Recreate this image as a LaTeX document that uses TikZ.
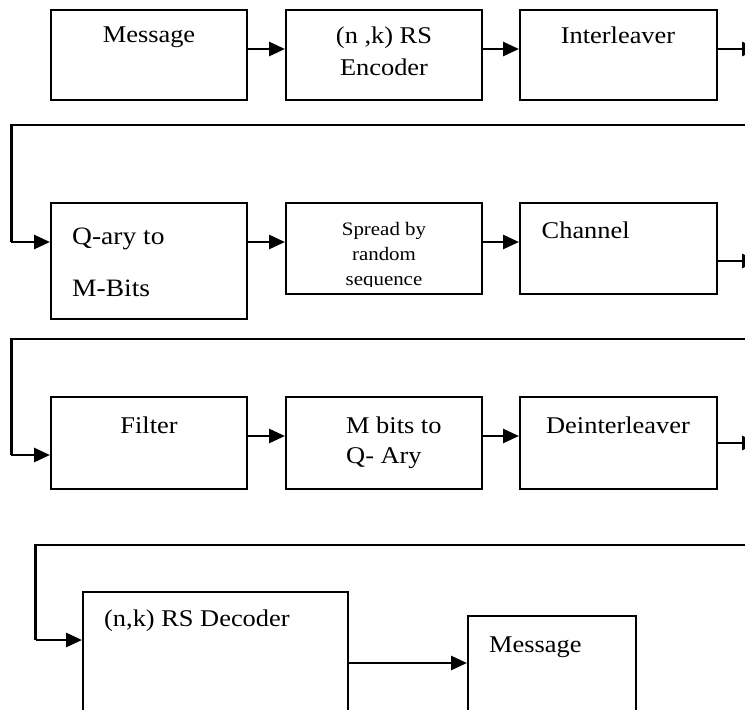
\documentclass[tikz,border=0pt]{standalone}
\usepackage{fontspec}
\setmainfont{Liberation Serif}[FakeStretch=1.1]
\usetikzlibrary{arrows.meta}
\begin{document}
\begin{tikzpicture}[x=1pt,y=-1pt,
  blk/.style={draw,line width=2pt,inner sep=0pt,rectangle},
  conn/.style={line width=2.8pt,-{Triangle[length=16pt,width=14pt]}},
  wire/.style={line width=2.8pt},
  txt/.style={inner sep=0pt,font=\fontsize{24}{32}\selectfont},
]
\useasboundingbox (0,0) rectangle (745,710);
\clip (0,0) rectangle (745,710);
% row 1
\node[blk,minimum width=196pt,minimum height=90pt] (msg1) at (149,55) {};
\node[blk,minimum width=196pt,minimum height=90pt] (enc) at (384,55) {};
\node[blk,minimum width=197pt,minimum height=90pt] (intl) at (618.5,55) {};
\node[txt,anchor=base] (tmsg1) at (149,42) {Message};
\node[txt,anchor=base,align=center] (tenc) at (384,75) {(n ,k) RS\\Encoder};
\node[txt,anchor=base] (tintl) at (618,43) {Interleaver};
\coordinate (o1) at (758,49);
\draw[conn] (msg1.east |- 0,49) -- (enc.west |- 0,49);
\draw[conn] (enc.east |- 0,49) -- (intl.west |- 0,49);
\draw[conn] (intl.east |- 0,49) -- (o1);
% row 2
\node[blk,minimum width=196pt,minimum height=116pt] (qary) at (149,261) {};
\node[blk,minimum width=196pt,minimum height=91pt] (spread) at (384,248.5) {};
\node[blk,minimum width=197pt,minimum height=91pt] (chan) at (618.5,248.5) {};
\node[inner sep=0pt,anchor=base west,align=left,font=\fontsize{25}{52}\selectfont] (tqary) at (72,296) {Q-ary to\\M-Bits};
\begin{scope}
\clip (287,204) rectangle (481,286);
\node[inner sep=0pt,anchor=base,align=center,font=\fontsize{19}{25}\selectfont] (tspread) at (384,285) {Spread by\\random\\sequence};
\end{scope}
\node[txt,anchor=base west] (tchan) at (541.5,238) {Channel};
\coordinate (w2r) at (760,125);
\coordinate (w2l) at (11.4,125);
\draw[wire] (w2r) -- (w2l) -- (w2l |- 0,242);
\draw[conn] (w2l |- 0,242) -- (qary.west |- 0,242);
\draw[conn] (qary.east |- 0,242) -- (spread.west |- 0,242);
\draw[conn] (spread.east |- 0,242) -- (chan.west |- 0,242);
\coordinate (o2) at (758,261);
\draw[conn] (chan.east |- 0,261) -- (o2);
% row 3
\node[blk,minimum width=196pt,minimum height=92pt] (filt) at (149,443) {};
\node[blk,minimum width=196pt,minimum height=92pt] (mbits) at (384,443) {};
\node[blk,minimum width=197pt,minimum height=92pt] (deint) at (618.5,443) {};
\node[txt,anchor=base] (tfilt) at (149,433) {Filter};
\node[txt,anchor=base west,align=left,font=\fontsize{24}{30}\selectfont] (tmbits) at (346,463) {M bits to\\Q- Ary};
\node[txt,anchor=base] (tdeint) at (618,433) {Deinterleaver};
\coordinate (w3r) at (760,339);
\coordinate (w3l) at (11.4,339);
\draw[wire] (w3r) -- (w3l) -- (w3l |- 0,455);
\draw[conn] (w3l |- 0,455) -- (filt.west |- 0,455);
\draw[conn] (filt.east |- 0,436) -- (mbits.west |- 0,436);
\draw[conn] (mbits.east |- 0,436) -- (deint.west |- 0,436);
\coordinate (o3) at (758,443);
\draw[conn] (deint.east |- 0,443) -- (o3);
% row 4
\node[blk,minimum width=265pt,minimum height=138pt] (dec) at (215.5,661) {};
\node[blk,minimum width=168pt,minimum height=114pt] (msg2) at (552,673) {};
\node[txt,anchor=base west] (tdec) at (104,626) {(n,k) RS Decoder};
\node[txt,anchor=base west] (tmsg2) at (489,652) {Message};
\coordinate (w4r) at (760,545);
\coordinate (w4l) at (35.6,545);
\draw[wire] (w4r) -- (w4l) -- (w4l |- 0,640);
\draw[conn] (w4l |- 0,640) -- (dec.west |- 0,640);
\draw[conn] (dec.east |- 0,663) -- (msg2.west |- 0,663);
\end{tikzpicture}
\end{document}
